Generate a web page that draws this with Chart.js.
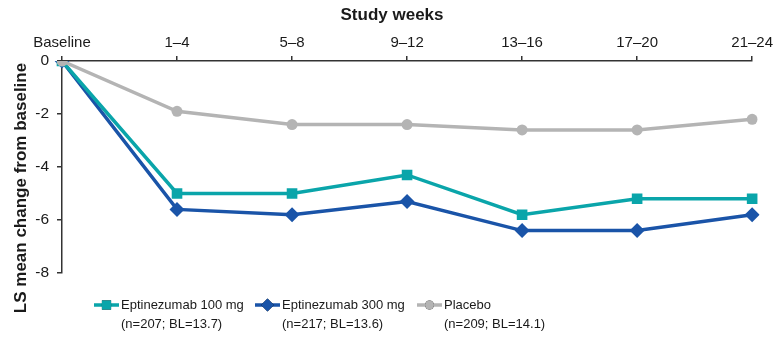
<!DOCTYPE html>
<html><head><meta charset="utf-8">
<script src="https://cdn.jsdelivr.net/npm/chart.js@4.4.1/dist/chart.umd.min.js"></script>
<style>html,body{margin:0;padding:0;background:#fff}#wrap{width:777px;height:339px}</style>
</head><body><div id="wrap"><canvas id="c" width="777" height="339"></canvas></div>
<script>
const categories = ['Baseline','1–4','5–8','9–12','13–16','17–20','21–24'];
const eptinezumab100 = [0, -5.0, -5.0, -4.3, -5.8, -5.2, -5.2];
const eptinezumab300 = [0, -5.6, -5.8, -5.3, -6.4, -6.4, -5.8];
const placebo = [0, -1.9, -2.4, -2.4, -2.6, -2.6, -2.2];
const yTicks = [0, -2, -4, -6, -8];
const seriesNames = ['Eptinezumab 100 mg', 'Eptinezumab 300 mg', 'Placebo'];
const seriesNotes = ['(n=207; BL=13.7)', '(n=217; BL=13.6)', '(n=209; BL=14.1)'];
const xTitle = 'Study weeks';
const yTitle = 'LS mean change from baseline';

const FONT = '"Liberation Sans", Arial, Helvetica, sans-serif';
const TEAL = '#0AA5AA', BLUE = '#1A54A8', GRAY = '#B4B4B4', AXIS = '#333333', TXT = '#1a1a1a';

const titlesPlugin = {
  id: 'titles',
  afterDraw(chart) {
    const ctx = chart.ctx;
    ctx.save();
    ctx.fillStyle = TXT;
    ctx.font = 'bold 17px ' + FONT;
    ctx.textAlign = 'center';
    ctx.textBaseline = 'middle';
    ctx.fillText(xTitle, 392, 15);
    ctx.translate(21, 188);
    ctx.rotate(-Math.PI / 2);
    ctx.fillText(yTitle, 0, 0);
    ctx.restore();
  }
};

const legendPlugin = {
  id: 'customLegend',
  afterDraw(chart) {
    const ctx = chart.ctx;
    const starts = [94, 255, 417];
    const y1 = 305, y2 = 324;
    chart.data.datasets.forEach((ds) => {
      const idx = ds.legendIndex;
      const x0 = starts[idx];
      ctx.save();
      ctx.strokeStyle = ds.borderColor;
      ctx.lineWidth = 3.5;
      ctx.beginPath();
      ctx.moveTo(x0, y1); ctx.lineTo(x0 + 25, y1);
      ctx.stroke();
      Chart.helpers.drawPoint(ctx, {pointStyle: ds.pointStyle, radius: ds.pointStyle === 'circle' ? 4.5 : 6.5, rotation: 0, borderWidth: 0}, x0 + 12.5, y1);
      ctx.fillStyle = ds.borderColor;
      ctx.fill();
      ctx.fillStyle = TXT;
      ctx.font = '13px ' + FONT;
      ctx.textAlign = 'left';
      ctx.textBaseline = 'middle';
      ctx.fillText(seriesNames[idx], x0 + 27, y1);
      ctx.fillText(seriesNotes[idx], x0 + 27, y2);
      ctx.restore();
    });
  }
};

new Chart(document.getElementById('c'), {
  type: 'line',
  data: {
    labels: categories,
    datasets: [
      {label: seriesNames[2], legendIndex: 2, data: placebo, borderColor: GRAY, backgroundColor: GRAY,
       pointStyle: 'circle', pointRadius: 5.5, pointBorderWidth: 0, borderWidth: 3.5, order: 1},
      {label: seriesNames[0], legendIndex: 0, data: eptinezumab100, borderColor: TEAL, backgroundColor: TEAL,
       pointStyle: 'rect', pointRadius: 7.5, pointBorderWidth: 0, borderWidth: 3.5, order: 2},
      {label: seriesNames[1], legendIndex: 1, data: eptinezumab300, borderColor: BLUE, backgroundColor: BLUE,
       pointStyle: 'rectRot', pointRadius: 7.5, pointBorderWidth: 0, borderWidth: 3.5, order: 3}
    ]
  },
  options: {
    responsive: false,
    animation: false,
    layout: {padding: {left: 0, right: 24, top: 0, bottom: 66}},
    plugins: {legend: {display: false}, tooltip: {enabled: false}},
    scales: {
      x: {
        position: 'top',
        offset: false,
        afterFit: s => { s.height = 61; },
        border: {display: true, color: AXIS, width: 1.5},
        grid: {display: true, drawOnChartArea: false, drawTicks: true, tickLength: 5, color: AXIS, lineWidth: 1.5},
        ticks: {color: TXT, font: {size: 15, family: FONT}, padding: 4, maxRotation: 0, autoSkip: false}
      },
      y: {
        min: -8, max: 0,
        afterBuildTicks: s => { s.ticks = yTicks.map(v => ({value: v})); },
        afterFit: s => { s.width = 62; },
        border: {display: true, color: AXIS, width: 1.5},
        grid: {display: true, drawOnChartArea: false, drawTicks: true, tickLength: 5, color: AXIS, lineWidth: 1.5},
        ticks: {color: TXT, font: {size: 15.5, family: FONT}, padding: 8}
      }
    }
  },
  plugins: [titlesPlugin, legendPlugin]
});
</script></body></html>
